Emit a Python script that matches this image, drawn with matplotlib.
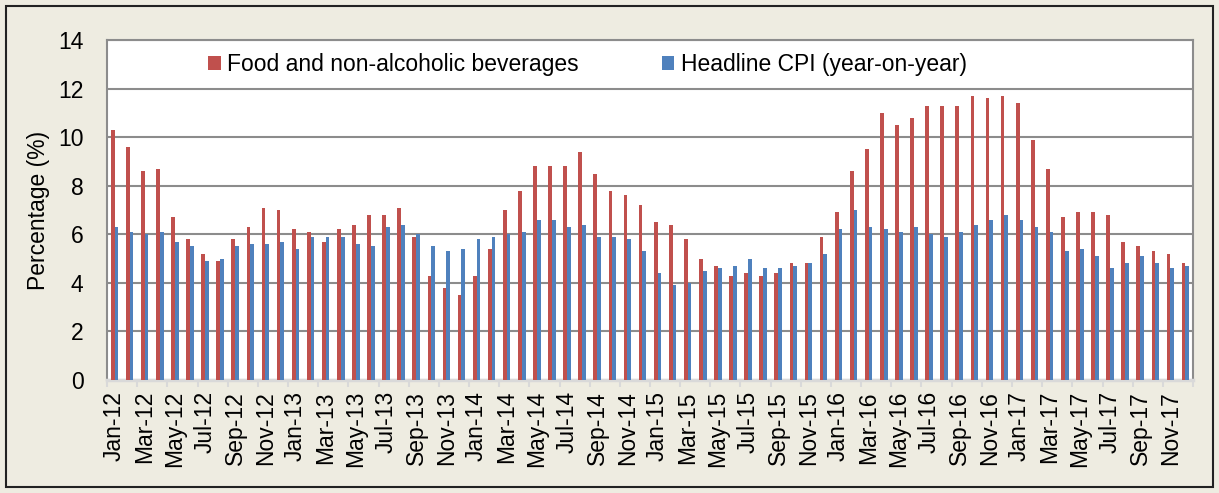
import numpy as np
import matplotlib
matplotlib.use("Agg")
import matplotlib.pyplot as plt
from matplotlib.patches import Rectangle

plt.rcParams['font.family'] = ['Liberation Sans', 'DejaVu Sans']

months = ["Jan", "Feb", "Mar", "Apr", "May", "Jun", "Jul", "Aug", "Sep", "Oct", "Nov", "Dec"]
years = ["12", "13", "14", "15", "16", "17"]
labels = [m + "-" + y for y in years for m in months]

# Food and non-alcoholic beverages (%)
food = [10.3, 9.6, 8.6, 8.7, 6.7, 5.8, 5.2, 4.9, 5.8, 6.3, 7.1, 7.0,
        6.2, 6.1, 5.7, 6.2, 6.4, 6.8, 6.8, 7.1, 5.9, 4.3, 3.8, 3.5,
        4.3, 5.4, 7.0, 7.8, 8.8, 8.8, 8.8, 9.4, 8.5, 7.8, 7.6, 7.2,
        6.5, 6.4, 5.8, 5.0, 4.7, 4.3, 4.4, 4.3, 4.4, 4.8, 4.8, 5.9,
        6.9, 8.6, 9.5, 11.0, 10.5, 10.8, 11.3, 11.3, 11.3, 11.7, 11.6, 11.7,
        11.4, 9.9, 8.7, 6.7, 6.9, 6.9, 6.8, 5.7, 5.5, 5.3, 5.2, 4.8]
# Headline CPI (year-on-year, %)
cpi = [6.3, 6.1, 6.0, 6.1, 5.7, 5.5, 4.9, 5.0, 5.5, 5.6, 5.6, 5.7,
       5.4, 5.9, 5.9, 5.9, 5.6, 5.5, 6.3, 6.4, 6.0, 5.5, 5.3, 5.4,
       5.8, 5.9, 6.0, 6.1, 6.6, 6.6, 6.3, 6.4, 5.9, 5.9, 5.8, 5.3,
       4.4, 3.9, 4.0, 4.5, 4.6, 4.7, 5.0, 4.6, 4.6, 4.7, 4.8, 5.2,
       6.2, 7.0, 6.3, 6.2, 6.1, 6.3, 6.0, 5.9, 6.1, 6.4, 6.6, 6.8,
       6.6, 6.3, 6.1, 5.3, 5.4, 5.1, 4.6, 4.8, 5.1, 4.8, 4.6, 4.7]

fig = plt.figure(figsize=(12.19, 4.93), dpi=100)
fig.patch.set_facecolor('#EEECE1')
fig.patches.append(Rectangle((6 / 1219, 6 / 493), 1207 / 1219, 481 / 493,
                             transform=fig.transFigure, fill=False,
                             edgecolor='#222222', linewidth=1.5))

ax = fig.add_axes([107 / 1219, 1 - 380 / 493, 1086 / 1219, 340 / 493])
ax.set_facecolor('white')

x = np.arange(len(labels))
w = 0.25
ax.bar(x - w / 2, food, width=w, color='#C0504D', label='Food and non-alcoholic beverages', zorder=3)
ax.bar(x + w / 2, cpi, width=w, color='#4F81BD', label='Headline CPI (year-on-year)', zorder=3)

ax.set_xlim(-0.5, len(labels) - 0.5)
ax.set_ylim(0, 14)
ax.set_yticks(range(0, 15, 2))
ax.yaxis.grid(True, color='#8C8C8C', linewidth=1.5, zorder=0)
ax.tick_params(axis='y', length=0, pad=17, labelsize=16.5)

# labels every two months, tick marks at category boundaries
ax.set_xticks(x[::2])
ax.set_xticklabels(labels[::2], rotation=90, fontsize=16.5)
ax.set_xticks(np.arange(-0.5, len(labels), 2), minor=True)
ax.tick_params(axis='x', which='major', length=0, pad=8)
ax.tick_params(axis='x', which='minor', length=5, color='#D9D9D9', width=1.5)

for s in ['left', 'top', 'right']:
    ax.spines[s].set_color('#8C8C8C')
    ax.spines[s].set_linewidth(1.5)
ax.spines['bottom'].set_color('#D9D9D9')
ax.spines['bottom'].set_linewidth(2.5)

ax.set_ylabel('Percentage (%)', fontsize=16.5, labelpad=6)

ax.legend(ncol=2, loc='center', bbox_to_anchor=(0.4425, 13 / 14), frameon=False,
          fontsize=16.5, handlelength=0.55, handleheight=0.55, handletextpad=0.3,
          columnspacing=3.6)

fig.savefig('out.png', dpi=100, facecolor=fig.get_facecolor())
